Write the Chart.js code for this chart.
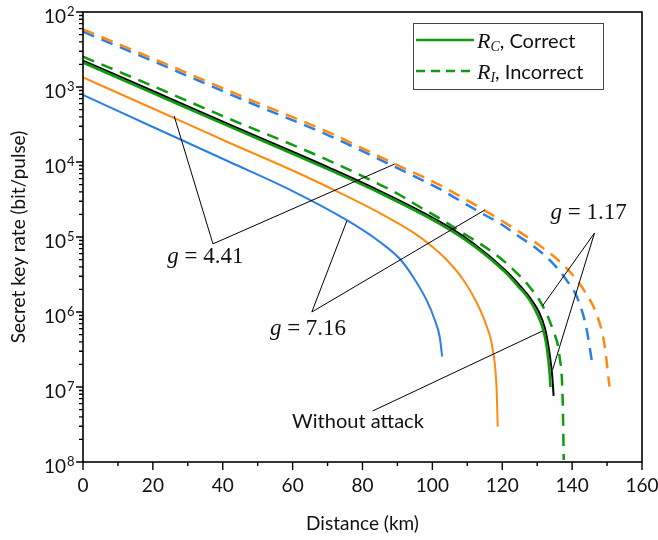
<!DOCTYPE html>
<html>
<head>
<meta charset="utf-8">
<script src="https://cdn.jsdelivr.net/npm/chart.js@4.4.0/dist/chart.umd.min.js"></script>
<style>
html, body { margin: 0; padding: 0; background: #fff; }
#wrap { width: 658px; height: 540px; }
</style>
</head>
<body>
<div id="wrap"><canvas id="chart"></canvas></div>
<script>
// distance (km) and secret key rate
const blueSolidKm = [0, 20, 42, 60, 75.4, 84.9, 90.7, 94.5, 98.3, 100.7, 102.1, 102.8];
const blueSolidRate = [7.82e-4, 2.93e-4, 1.0e-4, 4.1e-5, 1.69e-5, 8.65e-6, 5.09e-6, 2.93e-6, 1.45e-6, 7.82e-7, 4.64e-7, 2.54e-7];

const orangeSolidKm = [0, 20, 42, 60, 70.7, 84.9, 94.5, 99.2, 104, 108.7, 112.6, 115.4, 117.3, 118.4, 118.7];
const orangeSolidRate = [1.345e-3, 5.17e-4, 1.79e-4, 7.7e-5, 4.5e-5, 2.09e-5, 1.15e-5, 7.94e-6, 5.01e-6, 2.75e-6, 1.36e-6, 6.71e-7, 3.11e-7, 9.1e-8, 2.96e-8];

const greenSolidKm = [0, 20, 42, 60, 70.7, 85, 102, 111.6, 121.1, 124.5, 127.8, 130, 131.5, 132.5, 133.2, 133.6, 133.8];
const greenSolidRate = [2.12e-3, 8.3e-4, 2.96e-4, 1.29e-4, 7.8e-5, 3.86e-5, 1.51e-5, 7.8e-6, 3.31e-6, 2.22e-6, 1.45e-6, 9.4e-7, 6.3e-7, 3.98e-7, 2.29e-7, 1.45e-7, 1.0e-7];

const noAttackKm = [0, 20, 42, 60, 70.7, 85, 102, 111.6, 121.1, 124.5, 127.8, 130.5, 132.2, 133.3, 134, 134.4, 134.7];
const noAttackRate = [2.25e-3, 8.85e-4, 3.14e-4, 1.37e-4, 8.3e-5, 4.1e-5, 1.61e-5, 8.3e-6, 3.52e-6, 2.4e-6, 1.58e-6, 1.0e-6, 6.12e-7, 3.31e-7, 1.91e-7, 1.24e-7, 7.6e-8];

const greenDashKm = [0, 20, 42, 60, 70.7, 84.9, 90.7, 96.4, 102.1, 107.8, 113, 118.3, 123, 127.8, 131.1, 134.5, 136.4, 137.3, 137.6];
const greenDashRate = [2.54e-3, 1.03e-3, 3.74e-4, 1.69e-4, 1.03e-4, 5.01e-5, 3.63e-5, 2.51e-5, 1.77e-5, 1.2e-5, 8.5e-6, 5.75e-6, 3.74e-6, 2.17e-6, 1.32e-6, 5.75e-7, 2.54e-7, 6.7e-8, 1.06e-8];

const blueDashKm = [0, 20, 48.7, 70.7, 89.3, 102.6, 108.3, 114, 119.3, 124.9, 129.7, 134.5, 138.7, 141.4, 144, 145.9];
const blueDashRate = [5.46e-3, 2.22e-3, 5.93e-4, 2.22e-4, 8.58e-5, 4.24e-5, 2.97e-5, 2.09e-5, 1.52e-5, 1.01e-5, 7.06e-6, 4.46e-6, 2.54e-6, 1.58e-6, 6.37e-7, 1.87e-7];

const orangeDashKm = [0, 20, 48.7, 70.7, 89.3, 102.6, 108.3, 114, 119.5, 124.9, 130.7, 135.4, 140.2, 143.5, 146.9, 149.2, 150.7];
const orangeDashRate = [5.88e-3, 2.4e-3, 6.5e-4, 2.44e-4, 9.4e-5, 4.79e-5, 3.41e-5, 2.4e-5, 1.69e-5, 1.17e-5, 7.7e-6, 5.2e-6, 3.11e-6, 1.91e-6, 9.6e-7, 3.83e-7, 1.01e-7];

// axis ticks
const xMajorTicks = [0, 20, 40, 60, 80, 100, 120, 140, 160];
const xMinorTicks = [10, 30, 50, 70, 90, 110, 130, 150];
const yTickValues = [1e-2, 1e-3, 1e-4, 1e-5, 1e-6, 1e-7, 1e-8];
const yTickExps = ['2', '3', '4', '5', '6', '7', '8'];

// annotation leader lines: [apex, targets...] and label centres, in data units
const g441Label = [35, 5.4e-6];
const g441Lines = [[37.2, 8.1e-6], [26.1, 4.1e-4], [89.2, 9.4e-5]];
const g716Label = [64.4, 5.9e-7];
const g716Lines = [[65.5, 1.0e-6], [75.5, 1.63e-5], [115, 2.29e-5]];
const g117Label = [144.7, 2.09e-5];
const g117Lines = [[146.4, 1.13e-5], [131.5, 1.2e-6], [134.4, 1.69e-7]];
const noAttackLabel = [78.7, 3.41e-8];
const noAttackLine = [[82.9, 4.79e-8], [131.5, 5.58e-7]];

const BLUE = '#2a7fe6';
const ORANGE = '#ff8a10';
const GREEN = '#0f9a0f';
const SANS = 'Lato';
const SERIF = '"Liberation Serif"';

const pts = (xs, ys) => xs.map((v, i) => ({ x: v, y: ys[i] }));

const line = (data, color, width, dash) => ({
    data: data,
    borderColor: color,
    borderWidth: width,
    borderDash: dash || [],
    pointRadius: 0,
    fill: false,
    cubicInterpolationMode: 'monotone'
});

const decorations = {
    id: 'decorations',
    afterDraw(chart) {
        const { ctx, chartArea: a, scales: { x, y } } = chart;
        const P = (p) => [x.getPixelForValue(p[0]), y.getPixelForValue(p[1])];
        ctx.save();

        // frame
        ctx.strokeStyle = '#000';
        ctx.lineWidth = 1.6;
        ctx.strokeRect(a.left, a.top, a.right - a.left, a.bottom - a.top);

        // x ticks
        ctx.lineWidth = 1.4;
        ctx.beginPath();
        xMajorTicks.forEach(v => {
            const px = x.getPixelForValue(v);
            ctx.moveTo(px, a.bottom); ctx.lineTo(px, a.bottom + 8);
        });
        xMinorTicks.forEach(v => {
            const px = x.getPixelForValue(v);
            ctx.moveTo(px, a.bottom); ctx.lineTo(px, a.bottom + 4);
        });
        // y ticks
        yTickValues.forEach(v => {
            const py = y.getPixelForValue(v);
            ctx.moveTo(a.left, py); ctx.lineTo(a.left - 7, py);
            if (v < 1e-2) {
                for (let m = 2; m <= 9; m++) {
                    const pm = y.getPixelForValue(v * m);
                    ctx.moveTo(a.left, pm); ctx.lineTo(a.left - 4, pm);
                }
            }
        });
        ctx.stroke();

        // tick labels
        ctx.fillStyle = '#111';
        ctx.font = `19px ${SANS}`;
        ctx.textAlign = 'center';
        ctx.textBaseline = 'alphabetic';
        xMajorTicks.forEach(v => {
            ctx.fillText(String(v), x.getPixelForValue(v), a.bottom + 30);
        });
        yTickValues.forEach((v, i) => {
            const py = y.getPixelForValue(v);
            ctx.font = `19px ${SANS}`;
            ctx.textAlign = 'right';
            ctx.fillText('10', a.left - 17, py + 11);
            ctx.font = `13px ${SANS}`;
            ctx.textAlign = 'left';
            ctx.fillText(yTickExps[i], a.left - 16, py + 4);
        });

        // axis titles
        ctx.font = `19px ${SANS}`;
        ctx.textAlign = 'center';
        ctx.textBaseline = 'middle';
        ctx.fillText('Distance (km)', (a.left + a.right) / 2, 524);
        ctx.save();
        ctx.translate(19, (a.top + a.bottom) / 2);
        ctx.rotate(-Math.PI / 2);
        ctx.fillText('Secret key rate (bit/pulse)', 0, 0);
        ctx.restore();

        // annotation lines
        ctx.strokeStyle = '#000';
        ctx.lineWidth = 1;
        ctx.beginPath();
        [g441Lines, g716Lines, g117Lines].forEach(g => {
            const apex = P(g[0]);
            g.slice(1).forEach(t => {
                const q = P(t);
                ctx.moveTo(apex[0], apex[1]); ctx.lineTo(q[0], q[1]);
            });
        });
        const w0 = P(noAttackLine[0]), w1 = P(noAttackLine[1]);
        ctx.moveTo(w0[0], w0[1]); ctx.lineTo(w1[0], w1[1]);
        ctx.stroke();

        // math labels
        const mathLabel = (pos, value) => {
            const [cx, cy] = P(pos);
            ctx.textBaseline = 'middle';
            ctx.textAlign = 'left';
            ctx.font = `italic 23px ${SERIF}`;
            const wg = ctx.measureText('g').width;
            ctx.font = `23px ${SERIF}`;
            const rest = ' = ' + value;
            const wr = ctx.measureText(rest).width;
            const x0 = cx - (wg + wr) / 2;
            ctx.font = `italic 23px ${SERIF}`;
            ctx.fillText('g', x0, cy);
            ctx.font = `23px ${SERIF}`;
            ctx.fillText(rest, x0 + wg, cy);
        };
        ctx.fillStyle = '#111';
        mathLabel(g441Label, '4.41');
        mathLabel(g716Label, '7.16');
        mathLabel(g117Label, '1.17');

        const [nx, ny] = P(noAttackLabel);
        ctx.font = `20px ${SANS}`;
        ctx.textAlign = 'center';
        ctx.textBaseline = 'middle';
        ctx.fillText('Without attack', nx, ny);

        // legend
        const lx = a.right - 229, ly = a.top + 11;
        ctx.fillStyle = '#fff';
        ctx.fillRect(lx, ly, 190, 66);
        ctx.strokeStyle = '#444';
        ctx.lineWidth = 1;
        ctx.strokeRect(lx + 0.5, ly + 0.5, 190, 66);
        const entry = (yy, sub, word, dash) => {
            ctx.strokeStyle = GREEN;
            ctx.lineWidth = 2.5;
            ctx.setLineDash(dash);
            ctx.beginPath();
            ctx.moveTo(lx + 3, yy); ctx.lineTo(lx + 61, yy);
            ctx.stroke();
            ctx.setLineDash([]);
            ctx.fillStyle = '#111';
            ctx.textAlign = 'left';
            ctx.textBaseline = 'alphabetic';
            let tx = lx + 64;
            ctx.font = `italic 22px ${SERIF}`;
            ctx.fillText('R', tx, yy + 8);
            tx += ctx.measureText('R').width;
            ctx.font = `italic 14px ${SERIF}`;
            ctx.fillText(sub, tx, yy + 11);
            tx += ctx.measureText(sub).width;
            ctx.font = `20px ${SANS}`;
            ctx.fillText(', ' + word, tx, yy + 8);
        };
        entry(ly + 17, 'C', 'Correct', []);
        entry(ly + 48, 'I', 'Incorrect', [9, 6]);

        ctx.restore();
    }
};

new Chart(document.querySelector('#chart'), {
    type: 'line',
    data: {
        datasets: [
            line(pts(greenSolidKm, greenSolidRate), GREEN, 2.6),
            line(pts(noAttackKm, noAttackRate), '#000', 2),
            line(pts(orangeSolidKm, orangeSolidRate), ORANGE, 2),
            line(pts(blueSolidKm, blueSolidRate), BLUE, 2),
            line(pts(greenDashKm, greenDashRate), GREEN, 2.5, [12, 8]),
            line(pts(orangeDashKm, orangeDashRate), ORANGE, 2.5, [12, 8]),
            line(pts(blueDashKm, blueDashRate), BLUE, 2.5, [12, 8])
        ]
    },
    options: {
        responsive: true,
        maintainAspectRatio: false,
        animation: false,
        layout: { padding: { top: 12, right: 16, left: 0, bottom: 0 } },
        plugins: { legend: { display: false }, tooltip: { enabled: false } },
        scales: {
            x: {
                type: 'linear',
                min: 0,
                max: 160,
                grid: { display: false, drawTicks: false },
                border: { display: false },
                ticks: { display: false },
                afterFit: (s) => { s.height = 78; }
            },
            y: {
                type: 'logarithmic',
                min: 1e-8,
                max: 1e-2,
                grid: { display: false, drawTicks: false },
                border: { display: false },
                ticks: { display: false },
                afterBuildTicks: (s) => { s.ticks = yTickValues.map(v => ({ value: v })); },
                afterFit: (s) => { s.width = 83; }
            }
        }
    },
    plugins: [decorations]
});
</script>
</body>
</html>
